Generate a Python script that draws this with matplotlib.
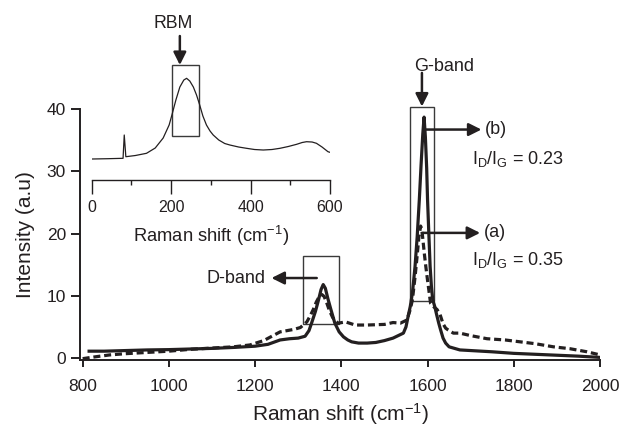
import matplotlib
matplotlib.use('Agg')
import matplotlib.pyplot as plt
from matplotlib.patches import Rectangle

plt.rcParams['font.family'] = ['Liberation Sans', 'DejaVu Sans']
plt.rcParams['mathtext.default'] = 'regular'

INK = '#231f20'
BOX = '#3a3a3a'

# ---- main spectra ----
shift_b = [815, 850, 900, 950, 1000, 1050, 1100, 1150, 1200, 1230, 1258, 1280,
           1300, 1316, 1325, 1331, 1340, 1347, 1353, 1358, 1363, 1369, 1375,
           1385, 1395, 1405, 1415, 1424, 1440, 1460, 1480, 1500, 1520, 1535,
           1544, 1550, 1555, 1560, 1565, 1571, 1576, 1581, 1585, 1589, 1592,
           1595, 1598, 1600, 1603, 1606, 1609, 1612, 1617, 1621, 1626, 1630,
           1636, 1642, 1650, 1675, 1700, 1750, 1800, 1850, 1900, 1950, 2000]
int_b = [1.1, 1.1, 1.2, 1.3, 1.35, 1.45, 1.55, 1.7, 1.9, 2.2, 2.9, 3.1,
         3.2, 3.5, 4.4, 5.6, 7.5, 9.3, 11.0, 11.8, 11.2, 9.5, 8.0,
         5.6, 4.2, 3.4, 2.9, 2.6, 2.4, 2.4, 2.5, 2.8, 3.2, 3.7,
         4.0, 5.0, 6.7, 8.3, 10.5, 14.7, 19.5, 25.5, 31.0, 36.0, 38.7,
         35.5, 30.5, 25.5, 20.0, 14.7, 11.5, 9.4, 8.2, 7.0, 5.6, 4.6,
         3.2, 2.4, 1.8, 1.3, 1.2, 1.0, 0.75, 0.6, 0.45, 0.3, 0.1]

shift_a = [800, 830, 863, 900, 950, 1000, 1050, 1100, 1150, 1188, 1220, 1258,
           1290, 1305, 1320, 1328, 1335, 1342, 1349, 1355, 1360, 1366, 1372,
           1380, 1387, 1393, 1410, 1432, 1460, 1500, 1520, 1537, 1552, 1560,
           1565, 1571, 1576, 1580, 1584, 1587, 1590, 1593, 1596, 1600, 1604,
           1607, 1615, 1622, 1629, 1636, 1642, 1648, 1660, 1675, 1700, 1738,
           1780, 1815, 1850, 1892, 1930, 1970, 2000]
int_a = [-0.1, 0.2, 0.5, 0.7, 0.9, 1.1, 1.4, 1.6, 1.8, 2.1, 2.8, 4.2,
         4.6, 4.9, 5.8, 6.8, 7.8, 9.0, 9.9, 10.2, 9.9, 8.9, 7.7,
         6.5, 5.9, 5.6, 5.8, 5.3, 5.3, 5.4, 5.7, 5.6, 6.1, 7.8,
         9.4, 13.0, 16.5, 19.5, 21.2, 20.5, 18.5, 16.5, 14.7, 12.5, 10.4,
         8.8, 8.2, 7.8, 7.0, 5.5, 4.8, 4.5, 4.0, 4.0, 3.6, 3.1,
         2.9, 2.6, 2.3, 1.8, 1.5, 1.0, 0.5]

# ---- inset RBM spectrum (arbitrary units) ----
rbm_shift = [0, 40, 79, 82, 86, 110, 138, 160, 180, 195, 202, 212, 222, 232,
             239, 247, 256, 264, 272, 280, 289, 298, 306, 320, 335, 348, 370,
             390, 410, 432, 454, 474, 495, 516, 530, 541, 555, 566, 580, 595,
             600]
rbm_int = [21, 21.3, 21.7, 45, 23.3, 24.5, 26.7, 32, 42, 55, 65, 80, 93, 100,
           101.7, 99, 93, 85, 75, 64, 55, 49, 45, 40, 36.5, 35, 33,
           31.7, 30.5, 30, 30.5, 31.7, 33.5, 35.7, 37.5, 38.3, 38, 36.7, 33,
           28.3, 27.7]

x_ticks = [800, 1000, 1200, 1400, 1600, 1800, 2000]
y_ticks = [0, 10, 20, 30, 40]
inset_ticks = [0, 200, 400, 600]
inset_minor = [100, 300, 500]

fig = plt.figure(figsize=(6.22, 4.29), dpi=100)
ax = fig.add_axes([0.1294, 0.1608, 0.8352, 0.5851])

ax.plot(shift_b, int_b, color=INK, lw=2.3, solid_joinstyle='round')
ax.plot(shift_a, int_a, color=INK, lw=2.3, linestyle=(0, (2.2, 1.2)))

ax.set_xlim(795, 2000)
ax.set_ylim(-0.32, 40)
ax.set_xticks(x_ticks)
ax.set_yticks(y_ticks)
for s in ['top', 'right']:
    ax.spines[s].set_visible(False)
for s in ['left', 'bottom']:
    ax.spines[s].set_linewidth(1.4)
    ax.spines[s].set_color(INK)
ax.tick_params(axis='x', length=5, width=1.4, pad=9, labelsize=12.5, colors=INK)
ax.tick_params(axis='y', length=6.5, width=1.4, pad=4, labelsize=12.5, colors=INK)
ax.set_xlabel('Raman shift (cm$^{-1}$)', fontsize=15, labelpad=5, color=INK)
ax.set_ylabel('Intensity (a.u)', fontsize=15, labelpad=8, color=INK)

# boxes
ax.add_patch(Rectangle((1559, 9.2), 1615 - 1559, 40.3 - 9.2, fill=False,
                       ec=BOX, lw=1.0, clip_on=False))
ax.add_patch(Rectangle((1310, 5.4), 1394 - 1310, 16.45 - 5.4, fill=False,
                       ec=BOX, lw=1.0, clip_on=False))

arrow = dict(arrowstyle='-|>', color=INK, lw=1.8, mutation_scale=19,
             shrinkA=0, shrinkB=0)
ax.annotate('', xy=(1587, 40.4), xytext=(1587, 45.8), arrowprops=arrow,
            annotation_clip=False)
ax.text(1638, 46.9, 'G-band', ha='center', va='center', fontsize=13, color=INK)
ax.annotate('', xy=(1725, 36.7), xytext=(1593, 36.7), arrowprops=arrow,
            annotation_clip=False)
ax.text(1733, 36.7, '(b)', ha='left', va='center', fontsize=13, color=INK)
ax.text(1702, 32.0, '$I_D/I_G$ = 0.23', ha='left', va='center', fontsize=13,
        color=INK)
ax.annotate('', xy=(1722, 20.1), xytext=(1587, 20.1), arrowprops=arrow,
            annotation_clip=False)
ax.text(1730, 20.1, '(a)', ha='left', va='center', fontsize=13, color=INK)
ax.text(1702, 15.7, '$I_D/I_G$ = 0.35', ha='left', va='center', fontsize=13,
        color=INK)
ax.annotate('', xy=(1238, 12.85), xytext=(1343, 12.85), arrowprops=arrow,
            annotation_clip=False)
ax.text(1223, 12.85, 'D-band', ha='right', va='center', fontsize=13, color=INK)

# ---- inset ----
ins = fig.add_axes([0.1474, 0.5804, 0.3831, 0.2797])
ins.patch.set_alpha(0)
ins.plot(rbm_shift, rbm_int, color=INK, lw=0.9)
ins.set_xlim(0, 600)
ins.set_ylim(0, 120)
for s in ['top', 'right', 'left']:
    ins.spines[s].set_visible(False)
ins.spines['bottom'].set_linewidth(1.0)
ins.spines['bottom'].set_color(INK)
ins.set_yticks([])
ins.set_xticks(inset_ticks)
ins.set_xticks(inset_minor, minor=True)
ins.tick_params(axis='x', which='major', length=10, width=1.0, pad=4.5,
                labelsize=11.5, colors=INK)
ins.tick_params(axis='x', which='minor', length=3.5, width=1.0, colors=INK)
ins.set_xlabel('Raman shift (cm$^{-1}$)', fontsize=13.2, labelpad=6, color=INK)
ins.add_patch(Rectangle((202, 44.3), 270 - 202, 115 - 44.3, fill=False,
                        ec=BOX, lw=1.0, clip_on=False))
ins.annotate('', xy=(222, 115), xytext=(222, 144), arrowprops=arrow,
             annotation_clip=False)
ins.text(205, 156.7, 'RBM', ha='center', va='center', fontsize=12.7, color=INK)

fig.savefig('out.png', dpi=100)
